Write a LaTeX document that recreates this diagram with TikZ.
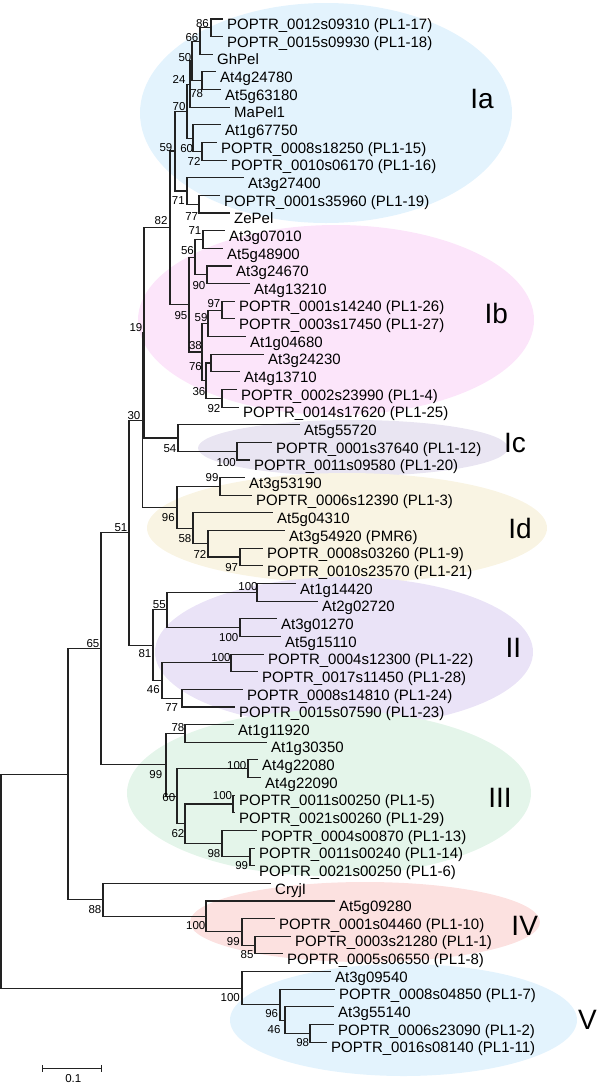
\documentclass[tikz,border=0pt]{standalone}
\usepackage{fontspec}
\setmainfont{Liberation Sans}
\usetikzlibrary{calc,arrows.meta}
\definecolor{cIa}{RGB}{227,243,253}
\definecolor{cIb}{RGB}{252,229,250}
\definecolor{cIc}{RGB}{233,229,242}
\definecolor{cId}{RGB}{249,244,227}
\definecolor{cII}{RGB}{234,227,247}
\definecolor{cIII}{RGB}{228,245,234}
\definecolor{cIV}{RGB}{252,225,224}
\definecolor{brc}{RGB}{34,34,34}
\tikzset{
  br/.style={draw=brc,line width=1.1pt},
  leaftext/.style={anchor=base west,inner sep=0pt,xshift=4.5pt,yshift=-10.7pt,font=\fontsize{15}{18}\selectfont},
  bs/.style={anchor=center,inner sep=0pt,font=\fontsize{11.5}{13}\selectfont},
  clade/.style={anchor=center,inner sep=0pt,font=\fontsize{28}{32}\selectfont},
}
\newcommand\tleaf[4]{\coordinate (#1) at (#2,{19+(#3-1)*17.64});
  \node[leaftext] (#1t) at (#1) {#4};}
\newcommand\inode[4]{\path let \p1=($(#3)!0.5!(#4)$) in (#2pt,\y1) coordinate (#1);
  \draw[br] (#3) -| (#1) |- (#4);}
\begin{document}
\begin{tikzpicture}[x=1pt,y=-1pt]
\useasboundingbox (0,0) rectangle (600,1085);
% clade ellipses
\fill[cIa] (326,113) ellipse [x radius=186pt,y radius=110pt];
\fill[cIb] (336,320) ellipse [x radius=198pt,y radius=95pt];
\fill[cIc] (353,448) ellipse [x radius=155pt,y radius=28pt];
\fill[cId] (347,528) ellipse [x radius=200pt,y radius=55pt];
\fill[cII] (344,652) ellipse [x radius=189pt,y radius=75pt];
\fill[cIII] (329,793) ellipse [x radius=202pt,y radius=83pt];
\fill[cIV] (365,922) ellipse [x radius=175pt,y radius=40pt];
\fill[cIa] (403.5,1020) ellipse [x radius=173.5pt,y radius=56pt];
% clade labels
\node[clade] (kIa) at (482,99.3) {Ia};
\node[clade] (kIb) at (496.3,313.3) {Ib};
\node[clade] (kIc) at (515,443.3) {Ic};
\node[clade] (kId) at (520,528.3) {Id};
\node[clade] (kII) at (513.3,648.3) {II};
\node[clade] (kIII) at (500,798.3) {III};
\node[clade] (kIV) at (524.7,925.8) {IV};
\node[clade] (kV) at (587.5,1020) {V};
% leaves
\tleaf{l1}{222.5}{1}{POPTR\_0012s09310 (PL1-17)}
\tleaf{l2}{222.5}{2}{POPTR\_0015s09930 (PL1-18)}
\tleaf{l3}{212.5}{3}{GhPel}
\tleaf{l4}{215.5}{4}{At4g24780}
\tleaf{l5}{220.5}{5}{At5g63180}
\tleaf{l6}{229.5}{6}{MaPel1}
\tleaf{l7}{220.5}{7}{At1g67750}
\tleaf{l8}{216.5}{8}{POPTR\_0008s18250 (PL1-15)}
\tleaf{l9}{226.5}{9}{POPTR\_0010s06170 (PL1-16)}
\tleaf{l10}{243.5}{10}{At3g27400}
\tleaf{l11}{219.5}{11}{POPTR\_0001s35960 (PL1-19)}
\tleaf{l12}{229.5}{12}{ZePel}
\tleaf{l13}{224.5}{13}{At3g07010}
\tleaf{l14}{222.5}{14}{At5g48900}
\tleaf{l15}{231.5}{15}{At3g24670}
\tleaf{l16}{249.5}{16}{At4g13210}
\tleaf{l17}{234.5}{17}{POPTR\_0001s14240 (PL1-26)}
\tleaf{l18}{234.5}{18}{POPTR\_0003s17450 (PL1-27)}
\tleaf{l19}{245.5}{19}{At1g04680}
\tleaf{l20}{263.5}{20}{At3g24230}
\tleaf{l21}{239.5}{21}{At4g13710}
\tleaf{l22}{236.5}{22}{POPTR\_0002s23990 (PL1-4)}
\tleaf{l23}{238.5}{23}{POPTR\_0014s17620 (PL1-25)}
\tleaf{l24}{299.5}{24}{At5g55720}
\tleaf{l25}{271.5}{25}{POPTR\_0001s37640 (PL1-12)}
\tleaf{l26}{249.5}{26}{POPTR\_0011s09580 (PL1-20)}
\tleaf{l27}{244.5}{27}{At3g53190}
\tleaf{l28}{251.5}{28}{POPTR\_0006s12390 (PL1-3)}
\tleaf{l29}{272.5}{29}{At5g04310}
\tleaf{l30}{284.5}{30}{At3g54920 (PMR6)}
\tleaf{l31}{262.5}{31}{POPTR\_0008s03260 (PL1-9)}
\tleaf{l32}{262.5}{32}{POPTR\_0010s23570 (PL1-21)}
\tleaf{l33}{295.5}{33}{At1g14420}
\tleaf{l34}{317.5}{34}{At2g02720}
\tleaf{l35}{276.5}{35}{At3g01270}
\tleaf{l36}{280.5}{36}{At5g15110}
\tleaf{l37}{263.5}{37}{POPTR\_0004s12300 (PL1-22)}
\tleaf{l38}{257.5}{38}{POPTR\_0017s11450 (PL1-28)}
\tleaf{l39}{242.5}{39}{POPTR\_0008s14810 (PL1-24)}
\tleaf{l40}{234.5}{40}{POPTR\_0015s07590 (PL1-23)}
\tleaf{l41}{233.5}{41}{At1g11920}
\tleaf{l42}{266.5}{42}{At1g30350}
\tleaf{l43}{257.5}{43}{At4g22080}
\tleaf{l44}{260.5}{44}{At4g22090}
\tleaf{l45}{234.5}{45}{POPTR\_0011s00250 (PL1-5)}
\tleaf{l46}{234.5}{46}{POPTR\_0021s00260 (PL1-29)}
\tleaf{l47}{256.5}{47}{POPTR\_0004s00870 (PL1-13)}
\tleaf{l48}{254.5}{48}{POPTR\_0011s00240 (PL1-14)}
\tleaf{l49}{254.5}{49}{POPTR\_0021s00250 (PL1-6)}
\tleaf{l50}{270.5}{50}{CryjI}
\tleaf{l51}{334.5}{51}{At5g09280}
\tleaf{l52}{274.5}{52}{POPTR\_0001s04460 (PL1-10)}
\tleaf{l53}{290.5}{53}{POPTR\_0003s21280 (PL1-1)}
\tleaf{l54}{282.5}{54}{POPTR\_0005s06550 (PL1-8)}
\tleaf{l55}{330.5}{55}{At3g09540}
\tleaf{l56}{334.5}{56}{POPTR\_0008s04850 (PL1-7)}
\tleaf{l57}{333.5}{57}{At3g55140}
\tleaf{l58}{333.5}{58}{POPTR\_0006s23090 (PL1-2)}
\tleaf{l59}{326.5}{59}{POPTR\_0016s08140 (PL1-11)}
% internal nodes (Ia)
\inode{a86}{211}{l1}{l2}
\inode{a66}{200}{a86}{l3}
\inode{a78}{202}{l4}{l5}
\inode{a50}{192}{a66}{a78}
\inode{a24}{190}{a50}{l6}
\inode{a72}{202}{l8}{l9}
\inode{a60}{193}{l7}{a72}
\inode{a70}{187}{a24}{a60}
\inode{a77}{199}{l11}{l12}
\inode{a71}{187}{l10}{a77}
\inode{a59}{175}{a70}{a71}
% Ib
\inode{b71}{203}{l13}{l14}
\inode{b90}{207}{l15}{l16}
\inode{b56}{195}{b71}{b90}
\inode{b97}{222}{l17}{l18}
\inode{b59}{208}{b97}{l19}
\inode{b76}{211}{l20}{l21}
\inode{b92}{222}{l22}{l23}
\inode{b36}{206}{b76}{b92}
\inode{b38}{202}{b59}{b36}
\inode{b95}{189}{b56}{b38}
\inode{c82}{170}{a59}{b95}
% Ic
\inode{c100}{237}{l25}{l26}
\inode{c54}{178}{l24}{c100}
\inode{c19}{144}{c82}{c54}
% Id
\inode{d99}{220}{l27}{l28}
\inode{d97}{240}{l31}{l32}
\inode{d72}{208}{l30}{d97}
\inode{d58}{193}{l29}{d72}
\inode{d96}{177}{d99}{d58}
\inode{d30}{142.5}{c19}{d96}
% II
\inode{e100a}{257}{l33}{l34}
\inode{e100b}{240}{l35}{l36}
\inode{e55}{167}{e100a}{e100b}
\inode{e100c}{231}{l37}{l38}
\inode{e77}{182}{l39}{l40}
\inode{e46}{162}{e100c}{e77}
\inode{e81}{153}{e55}{e46}
\inode{e51}{129}{d30}{e81}
% III
\inode{f78}{185}{l41}{l42}
\inode{f100a}{248}{l43}{l44}
\inode{f100b}{233}{l45}{l46}
\inode{f99c}{250}{l48}{l49}
\inode{f98}{222}{l47}{f99c}
\inode{f62}{185}{f100b}{f98}
\inode{f60}{177}{f100a}{f62}
\inode{f99}{166}{f78}{f60}
\inode{g65}{101}{e51}{f99}
% IV
\inode{h85}{255}{l53}{l54}
\inode{h99}{242}{l52}{h85}
\inode{h100}{206}{l51}{h99}
\inode{h88}{103}{l50}{h100}
\inode{r2}{68}{g65}{h88}
% V
\inode{v98}{310}{l58}{l59}
\inode{v46}{285}{l57}{v98}
\inode{v96}{280}{l56}{v46}
\inode{v100}{242}{l55}{v96}
\inode{root}{1}{r2}{v100}
% bootstrap values
\node[bs] (s1) at (202.5,23.8) {86};
\node[bs] (s2) at (192,37.5) {66};
\node[bs] (s3) at (185,57.5) {50};
\node[bs] (s4) at (179,79) {24};
\node[bs] (s5) at (196.7,93.3) {78};
\node[bs] (s6) at (179,106.7) {70};
\node[bs] (s7) at (186.7,149) {60};
\node[bs] (s8) at (194,161.7) {72};
\node[bs] (s9) at (166,147.5) {59};
\node[bs] (s10) at (178.3,200.5) {71};
\node[bs] (s11) at (191.7,216.7) {77};
\node[bs] (s12) at (161,221) {82};
\node[bs] (s13) at (195,231) {71};
\node[bs] (s14) at (187.5,251) {56};
\node[bs] (s15) at (199,286) {90};
\node[bs] (s16) at (214,304) {97};
\node[bs] (s17) at (181,316) {95};
\node[bs] (s18) at (201,317.5) {59};
\node[bs] (s19) at (195.5,346) {38};
\node[bs] (s20) at (195.5,366.7) {76};
\node[bs] (s21) at (199,391.7) {36};
\node[bs] (s22) at (214,409) {92};
\node[bs] (s23) at (136,327.5) {19};
\node[bs] (s24) at (134,416) {30};
\node[bs] (s25) at (170,449) {54};
\node[bs] (s26) at (226.3,462.5) {100};
\node[bs] (s27) at (212,477.5) {99};
\node[bs] (s28) at (168.3,518) {96};
\node[bs] (s29) at (121,528) {51};
\node[bs] (s30) at (185,539) {58};
\node[bs] (s31) at (200,554) {72};
\node[bs] (s32) at (231.7,567.5) {97};
\node[bs] (s33) at (248,587) {100};
\node[bs] (s34) at (159.3,604.5) {55};
\node[bs] (s35) at (228.8,637.5) {100};
\node[bs] (s36) at (93,644) {65};
\node[bs] (s37) at (145,654) {81};
\node[bs] (s38) at (221,657.5) {100};
\node[bs] (s39) at (153.3,689.5) {46};
\node[bs] (s40) at (171.7,707.3) {77};
\node[bs] (s41) at (178,727.5) {78};
\node[bs] (s42) at (236.7,765.5) {100};
\node[bs] (s43) at (155.8,774.7) {99};
\node[bs] (s44) at (168.8,797.5) {60};
\node[bs] (s45) at (222.5,795.8) {100};
\node[bs] (s46) at (178,833.3) {62};
\node[bs] (s47) at (214,854) {98};
\node[bs] (s48) at (241.7,866) {99};
\node[bs] (s49) at (95,910) {88};
\node[bs] (s50) at (195.8,926) {100};
\node[bs] (s51) at (233.3,942) {99};
\node[bs] (s52) at (247,954.7) {85};
\node[bs] (s53) at (230.3,998) {100};
\node[bs] (s54) at (271.7,1013.8) {96};
\node[bs] (s55) at (274,1029.5) {46};
\node[bs] (s56) at (302.7,1042.5) {98};
% scale bar
\coordinate (sb1) at (41.7,1068.3);
\coordinate (sb2) at (101.7,1068.3);
\draw[br,line width=1pt,{Bar[width=7pt]}-{Bar[width=7pt]}] (sb1) -- (sb2);
\node[bs] (sbl) at (73.3,1078.7) {0.1};
\end{tikzpicture}
\end{document}
